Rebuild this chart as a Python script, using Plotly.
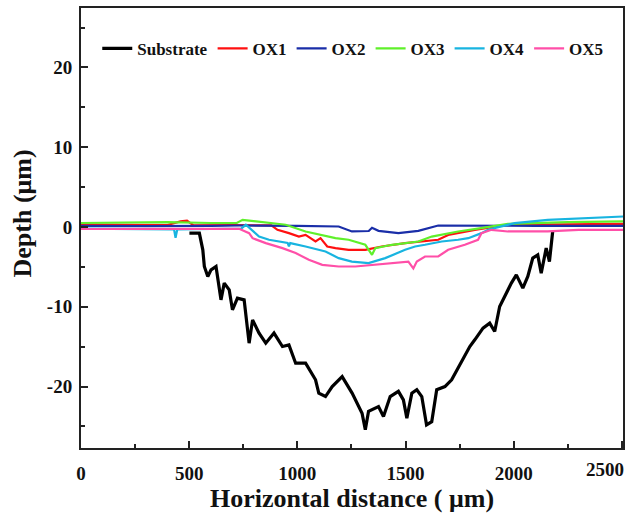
import plotly.graph_objects as go

# ---- data ----
sub_x = [501, 547, 563, 570, 586, 601, 624, 647, 662, 685, 700, 723, 754, 777, 793, 823, 854, 892, 931, 961,
         992, 1038, 1084, 1099, 1130, 1161, 1207, 1253, 1299, 1314, 1329, 1375, 1398, 1429, 1467, 1490, 1506,
         1529, 1552, 1575, 1597, 1621, 1644, 1682, 1713, 1743, 1766, 1797, 1820, 1858, 1889, 1912, 1935, 1958,
         1989, 2012, 2042, 2065, 2088, 2111, 2127, 2150, 2165, 2180]
sub_y = [-0.76, -0.76, -2.86, -4.95, -6.2, -5.37, -4.95, -9.13, -7.03, -7.87, -10.38, -8.92, -9.13, -14.56,
         -11.64, -13.3, -14.56, -13.3, -14.98, -14.77, -17.07, -17.07, -19.15, -20.82, -21.25, -20.0, -18.75,
         -20.82, -23.34, -25.4, -23.1, -22.5, -23.76, -21.25, -20.6, -21.67, -23.96, -20.82, -20.4, -21.25,
         -24.8, -24.4, -20.4, -20.0, -19.15, -17.7, -16.65, -14.98, -14.14, -12.68, -12.05, -13.1, -9.97, -8.71,
         -7.03, -6.0, -7.66, -6.2, -3.9, -3.49, -5.78, -2.65, -4.33, -0.56]

ox1_x = [0, 200, 400, 460, 490, 520, 700, 880, 908, 961, 1007, 1038, 1084, 1107, 1138, 1176, 1237, 1314,
         1390, 1498, 1651, 1697, 1760, 1820, 1973, 2200, 2510]
ox1_y = [0.3, 0.3, 0.25, 0.7, 0.8, 0.2, 0.25, 0.2, -0.35, -0.77, -1.2, -0.98, -1.82, -1.4, -2.44, -2.65,
         -2.86, -2.86, -2.44, -2.02, -1.6, -1.0, -0.7, -0.35, 0.28, 0.35, 0.4]

ox2_x = [0, 300, 600, 731, 1000, 1191, 1252, 1330, 1345, 1375, 1467, 1559, 1651, 1800, 2100, 2510]
ox2_y = [0.15, 0.1, 0.15, 0.19, 0.15, 0.06, -0.56, -0.5, -0.1, -0.48, -0.77, -0.48, 0.19, 0.15, 0.15, 0.15]

ox3_x = [0, 200, 400, 600, 720, 747, 860, 946, 1038, 1176, 1237, 1314, 1345, 1360, 1437, 1559, 1621,
         1743, 1849, 1973, 2250, 2510]
ox3_y = [0.5, 0.55, 0.6, 0.5, 0.5, 0.9, 0.6, 0.28, -0.56, -1.4, -1.6, -2.23, -3.49, -2.65, -2.23, -1.82,
         -1.2, -0.56, -0.14, 0.4, 0.6, 0.7]

ox4_x = [0, 300, 430, 437, 445, 600, 740, 762, 823, 869, 955, 961, 967, 1038, 1130, 1191, 1252, 1329, 1406,
         1498, 1544, 1590, 1667, 1743, 1790, 1851, 1881, 2004, 2157, 2510]
ox4_y = [-0.2, -0.25, -0.3, -1.35, -0.3, -0.25, -0.2, 0.28, -1.2, -1.6, -2.0, -2.44, -2.02, -2.44, -3.07,
         -3.9, -4.33, -4.53, -3.9, -2.86, -2.44, -2.23, -1.82, -1.6, -1.4, -0.77, -0.35, 0.49, 0.9, 1.32]

ox5_x = [0, 300, 600, 731, 777, 793, 854, 931, 992, 1053, 1115, 1191, 1268, 1345, 1437, 1513, 1536, 1552,
         1590, 1651, 1697, 1774, 1835, 1851, 1897, 1973, 2157, 2300, 2510]
ox5_y = [-0.25, -0.25, -0.2, -0.23, -0.77, -1.4, -2.02, -2.65, -3.27, -4.11, -4.74, -4.95, -4.95, -4.74,
         -4.53, -4.33, -5.2, -4.33, -3.7, -3.7, -2.86, -2.23, -1.6, -0.77, -0.35, -0.56, -0.56, -0.35, -0.35]

series = [
    ("Substrate", sub_x, sub_y, "#000000", 3.2),
    ("OX1", ox1_x, ox1_y, "#ff1010", 2.2),
    ("OX2", ox2_x, ox2_y, "#1a2ea8", 2.2),
    ("OX3", ox3_x, ox3_y, "#5ff02a", 2.2),
    ("OX4", ox4_x, ox4_y, "#18b4e0", 2.2),
    ("OX5", ox5_x, ox5_y, "#ff4fa8", 2.2),
]

x_ticks = [0, 500, 1000, 1500, 2000, 2500]
y_ticks = [-20, -10, 0, 10, 20]
x_title = "Horizontal distance ( μm)"
y_title = "Depth (μm)"

fig = go.Figure()
for name, xs, ys, col, w in series:
    fig.add_trace(go.Scatter(x=xs, y=ys, mode="lines", name=name,
                             line=dict(color=col, width=w)))

serif = "Liberation Serif"
tick_font = dict(family=serif, size=19, color="#111", weight="bold")
axis_common = dict(
    showline=True, linecolor="#222", linewidth=2, mirror=True,
    ticks="inside", ticklen=7, tickwidth=1.5, tickcolor="#222",
    showgrid=False, zeroline=False, tickfont=tick_font,
)

# last x tick label sits at the very edge: it is drawn shifted left as in the reference
x_ticktext = [str(v) for v in x_ticks[:-1]] + [""]

fig.update_xaxes(range=[0, 2505], tickvals=x_ticks, ticktext=x_ticktext,
                 minor=dict(ticks="inside", ticklen=4, tickwidth=1.5, tickcolor="#222", dtick=250, tick0=0),
                 title=dict(text=x_title,
                            font=dict(family=serif, size=26, color="#111", weight="bold"), standoff=6),
                 ticklabelstandoff=7, **axis_common)
fig.update_yaxes(range=[-27.7, 27.45], tickvals=y_ticks, ticktext=[str(v) for v in y_ticks],
                 minor=dict(ticks="inside", ticklen=4, tickwidth=1.5, tickcolor="#222", dtick=5, tick0=0),
                 ticklabelstandoff=3, **axis_common)

fig.add_annotation(text=str(x_ticks[-1]), x=x_ticks[-1], xref="x", xanchor="right", xshift=4,
                   y=0, yref="paper", yanchor="top", yshift=-9, showarrow=False, font=tick_font)
fig.add_annotation(text=y_title, textangle=-90, x=-0.108, xref="paper", xanchor="center",
                   y=0.534, yref="paper", yanchor="middle", showarrow=False,
                   font=dict(family=serif, size=26, color="#111", weight="bold"))

fig.update_layout(
    width=629, height=517,
    margin=dict(l=81, r=4, t=8, b=69),
    paper_bgcolor="white", plot_bgcolor="white",
    showlegend=True,
    legend=dict(orientation="h", x=0.03, y=0.907, xanchor="left", yanchor="middle",
                bgcolor="rgba(0,0,0,0)", font=dict(family=serif, size=17, color="#111", weight="bold"),
                itemwidth=30, tracegroupgap=0),
)

fig.write_html("out.html")
